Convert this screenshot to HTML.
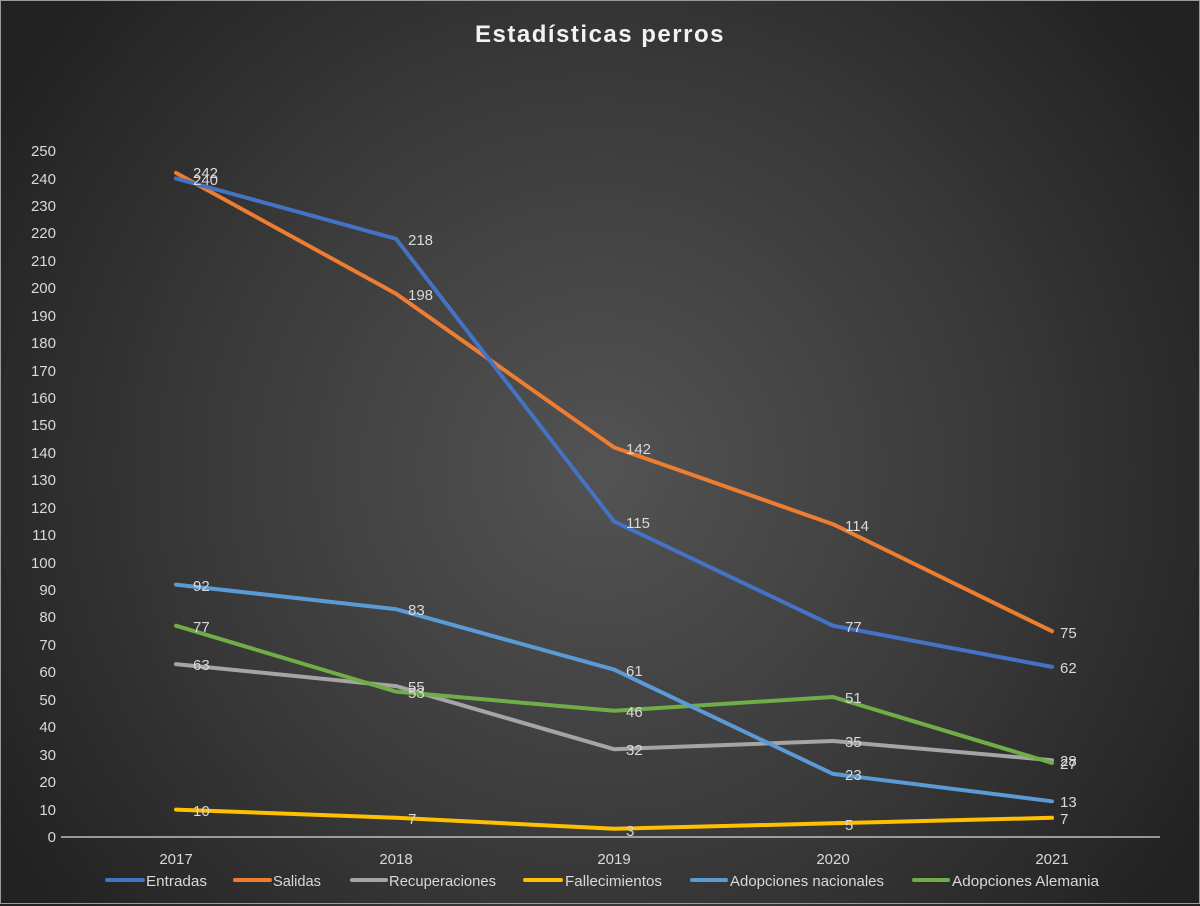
<!DOCTYPE html>
<html><head><meta charset="utf-8"><style>
html,body{margin:0;padding:0;background:#262626;}
svg{display:block;font-family:"Liberation Sans",sans-serif;}
</style></head><body>
<svg width="1200" height="906" viewBox="0 0 1200 906" xmlns="http://www.w3.org/2000/svg">
<defs>
<radialGradient id="bg" cx="600" cy="470" r="700" gradientUnits="userSpaceOnUse">
<stop offset="0" stop-color="#535353"/>
<stop offset="0.55" stop-color="#3a3a3a"/>
<stop offset="1" stop-color="#222222"/>
</radialGradient>
</defs>
<rect x="0" y="0" width="1200" height="906" fill="url(#bg)"/>
<rect x="0.5" y="0.5" width="1199" height="903" fill="none" stroke="#9a9a9a" stroke-width="1"/>
<text x="600" y="42" fill="#f2f2f2" font-size="24" font-weight="bold" text-anchor="middle" letter-spacing="1.5">Estadísticas perros</text>
<g fill="#d9d9d9" font-size="15" text-anchor="end">
<text x="56" y="842">0</text><text x="56" y="815">10</text><text x="56" y="787">20</text><text x="56" y="760">30</text><text x="56" y="732">40</text><text x="56" y="705">50</text><text x="56" y="677">60</text><text x="56" y="650">70</text><text x="56" y="622">80</text><text x="56" y="595">90</text><text x="56" y="568">100</text><text x="56" y="540">110</text><text x="56" y="513">120</text><text x="56" y="485">130</text><text x="56" y="458">140</text><text x="56" y="430">150</text><text x="56" y="403">160</text><text x="56" y="376">170</text><text x="56" y="348">180</text><text x="56" y="321">190</text><text x="56" y="293">200</text><text x="56" y="266">210</text><text x="56" y="238">220</text><text x="56" y="211">230</text><text x="56" y="184">240</text><text x="56" y="156">250</text>
</g>
<line x1="61" y1="837" x2="1160" y2="837" stroke="#bfbfbf" stroke-width="1.5"/>
<g fill="#d9d9d9" font-size="15" text-anchor="middle">
<text x="176" y="864">2017</text><text x="396" y="864">2018</text><text x="614" y="864">2019</text><text x="833" y="864">2020</text><text x="1052" y="864">2021</text>
</g>
<g fill="none" stroke-width="4" stroke-linejoin="round" stroke-linecap="round">
<polyline stroke="#FFC000" points="176,809.6 396,817.8 614,828.8 833,823.3 1052,817.8"/>
<polyline stroke="#A5A5A5" points="176,664.1 396,686.1 614,749.2 833,741 1052,760.2"/>
<polyline stroke="#70AD47" points="176,625.7 396,691.6 614,710.8 833,697 1052,762.9"/>
<polyline stroke="#5B9BD5" points="176,584.6 396,609.2 614,669.6 833,773.9 1052,801.3"/>
<polyline stroke="#ED7D31" points="176,172.9 396,293.7 614,447.4 833,524.2 1052,631.2"/>
<polyline stroke="#4472C4" points="176,178.4 396,238.8 614,521.4 833,625.7 1052,666.9"/>
</g>
<g fill="#d9d9d9" font-size="15">
<text x="193" y="178">242</text><text x="193" y="185">240</text>
<text x="408" y="245">218</text><text x="408" y="300">198</text>
<text x="626" y="454">142</text><text x="626" y="528">115</text>
<text x="845" y="531">114</text><text x="845" y="632">77</text>
<text x="1060" y="638">75</text><text x="1060" y="673">62</text>
<text x="193" y="591">92</text><text x="193" y="632">77</text><text x="193" y="670">63</text><text x="193" y="816">10</text>
<text x="408" y="615">83</text><text x="408" y="692">55</text><text x="408" y="698">53</text><text x="408" y="824">7</text>
<text x="626" y="676">61</text><text x="626" y="717">46</text><text x="626" y="755">32</text><text x="626" y="836">3</text>
<text x="845" y="703">51</text><text x="845" y="747">35</text><text x="845" y="780">23</text><text x="845" y="830">5</text>
<text x="1060" y="766">28</text><text x="1060" y="769">27</text><text x="1060" y="807">13</text><text x="1060" y="824">7</text>
</g>
<g stroke-width="4" stroke-linecap="round">
<line x1="107" y1="880" x2="143" y2="880" stroke="#4472C4"/>
<line x1="235" y1="880" x2="270" y2="880" stroke="#ED7D31"/>
<line x1="352" y1="880" x2="386" y2="880" stroke="#A5A5A5"/>
<line x1="525" y1="880" x2="561" y2="880" stroke="#FFC000"/>
<line x1="692" y1="880" x2="726" y2="880" stroke="#5B9BD5"/>
<line x1="914" y1="880" x2="948" y2="880" stroke="#70AD47"/>
</g>
<g fill="#d9d9d9" font-size="15">
<text x="146" y="886" textLength="61" lengthAdjust="spacingAndGlyphs">Entradas</text>
<text x="273" y="886" textLength="48" lengthAdjust="spacingAndGlyphs">Salidas</text>
<text x="389" y="886" textLength="107" lengthAdjust="spacingAndGlyphs">Recuperaciones</text>
<text x="565" y="886" textLength="97" lengthAdjust="spacingAndGlyphs">Fallecimientos</text>
<text x="730" y="886" textLength="154" lengthAdjust="spacingAndGlyphs">Adopciones nacionales</text>
<text x="952" y="886" textLength="147" lengthAdjust="spacingAndGlyphs">Adopciones Alemania</text>
</g>
</svg>
</body></html>
